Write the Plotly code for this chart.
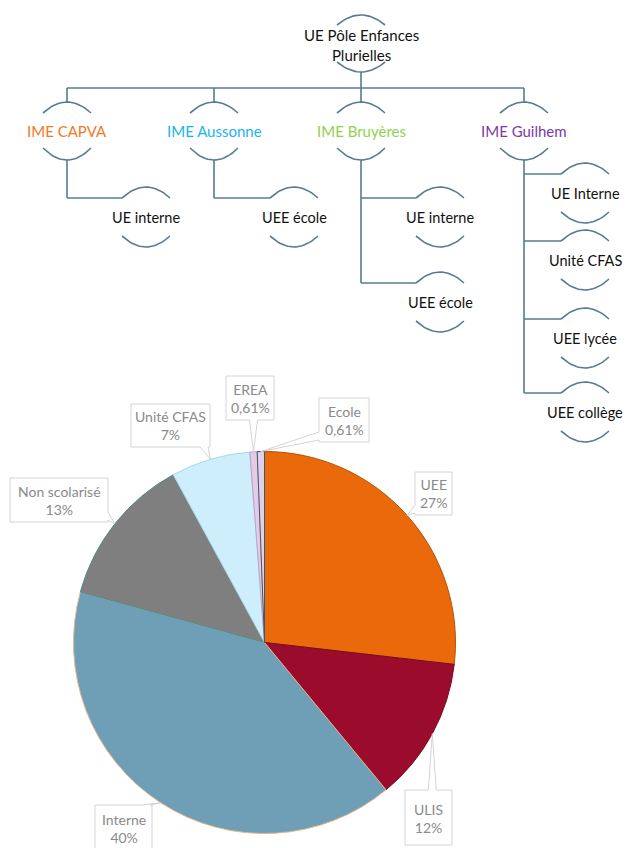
import numpy as np
import plotly.graph_objects as go

# ---------------- data ----------------
root_label = "UE Pôle Enfances<br>Plurielles"
ime_labels = ["IME CAPVA", "IME Aussonne", "IME Bruyères", "IME Guilhem"]
ime_colors = ["#F07A28", "#1AB4EE", "#92D050", "#7A3AA8"]
ime_units = [
    ["UE interne"],
    ["UEE école"],
    ["UE interne", "UEE école"],
    ["UE Interne", "Unité CFAS", "UEE lycée", "UEE collège"],
]

pie_labels = ["UEE", "ULIS", "Interne", "Non scolarisé", "Unité CFAS", "EREA", "Ecole"]
pie_counts = [44, 20, 66, 21, 11, 1, 1]
pie_colors = ["#E9690B", "#9B0B2C", "#6E9FB6", "#7F7F7F", "#CDEEFA", "#E6CBE6", "#DCD3EA"]
pie_edge_colors = ["#B5520A", "#7A0A22", "#E8B58A", "#4E8C8A", "#A9D8EA", "#B9A2C8", "#44546A"]

# ---------------- layout constants ----------------
W, H = 633, 848
OFF = 8  # page body margin: figure starts 8px in from the window edge
LINE_COLOR = "#567B95"
FONT = "Lato"
ORG_SIZE = 15
UNIT_SIZE = 14.5
ROOT_XY = (361, 45)
BUS_Y = 88
IME_X = [67, 214, 361, 524]
IME_Y = 131
CHILD_DX = [79, 80, 79, 61]
CHILD_Y = [[217], [217], [217, 302], [193, 260, 338, 412]]
HALF_CHORD = 24

PIE_C = (264.5, 642.5)
PIE_R = 191.0
CALLOUT_SIZE = 14
# callout boxes: x0, y0, x1, y1, side of tail
CALLOUTS = {
    "UEE": (415, 472, 452, 515, "left"),
    "ULIS": (405, 790, 452, 845, "top"),
    "Interne": (95, 805, 152, 850, "top"),
    "Non scolarisé": (10, 478, 108, 522, "right"),
    "Unité CFAS": (131, 404, 210, 447, "bottom"),
    "EREA": (226, 376, 274, 420, "bottom"),
    "Ecole": (319, 398, 369, 442, "left"),
}

xs, ys = [], []


def seg(points):
    for p in points:
        xs.append(p[0]); ys.append(p[1])
    xs.append(None); ys.append(None)


def arc(cx, cy, d_end, d_peak, half=HALF_CHORD):
    # quadratic bezier cap whose ends sit at cy+d_end and apex at cy+d_peak
    ctrl = 2 * d_peak - d_end
    t = np.linspace(0, 1, 25)
    px = (1 - t) ** 2 * (cx - half) + 2 * (1 - t) * t * cx + t ** 2 * (cx + half)
    py = (1 - t) ** 2 * (cy + d_end) + 2 * (1 - t) * t * (cy + ctrl) + t ** 2 * (cy + d_end)
    seg(list(zip(px, py)))


annotations = []
# root node
rx, ry = ROOT_XY
arc(rx, ry, -20, -30)
arc(rx, ry, 17, 27)
annotations.append(dict(x=rx, y=ry, text=root_label, showarrow=False, xref="x", yref="y",
                        font=dict(family=FONT, size=ORG_SIZE, color="#111111")))
seg([(rx, ry + 27), (rx, BUS_Y)])
seg([(IME_X[0], BUS_Y), (IME_X[-1], BUS_Y)])

for i, lab in enumerate(ime_labels):
    x = IME_X[i]
    seg([(x, BUS_Y), (x, IME_Y - 29)])
    arc(x, IME_Y, -18, -29)
    arc(x, IME_Y, 17, 29)
    annotations.append(dict(x=x, y=IME_Y, text=lab, showarrow=False, xref="x", yref="y",
                            font=dict(family=FONT, size=ORG_SIZE, color=ime_colors[i])))
    cx = x + CHILD_DX[i]
    ys_child = CHILD_Y[i]
    seg([(x, IME_Y + 29), (x, ys_child[-1] - 19)])
    for unit, cy in zip(ime_units[i], ys_child):
        seg([(x, cy - 19), (cx - HALF_CHORD, cy - 19)])
        arc(cx, cy, -19, -30)
        arc(cx, cy, 19, 30)
        annotations.append(dict(x=cx, y=cy, text=unit, showarrow=False, xref="x", yref="y",
                                font=dict(family=FONT, size=UNIT_SIZE, color="#111111")))

fig = go.Figure()
fig.add_trace(go.Scatter(x=xs, y=ys, mode="lines", line=dict(color=LINE_COLOR, width=1.6),
                         hoverinfo="skip", showlegend=False))

# ---------------- pie ----------------
FW, FH = W - OFF, H - OFF
YB = H  # window y of the figure's bottom edge
cxp, cyp = PIE_C
dom_x = [(cxp - OFF - PIE_R) / FW, (cxp - OFF + PIE_R) / FW]
dom_y = [(YB - cyp - PIE_R) / FH, (YB - cyp + PIE_R) / FH]
fig.add_trace(go.Pie(labels=pie_labels, values=pie_counts, sort=False, direction="clockwise",
                     rotation=0, textinfo="none", hoverinfo="label+percent",
                     marker=dict(colors=pie_colors, line=dict(color=pie_edge_colors, width=1)),
                     domain=dict(x=dom_x, y=dom_y), showlegend=False))

total = sum(pie_counts)


def pct_text(v):
    p = 100 * v / total
    if p < 1:
        return f"{p:.2f}".replace(".", ",") + "%"
    return f"{round(p)}%"


shapes = []
cum = 0
for lab, v in zip(pie_labels, pie_counts):
    mid = (cum + v / 2) / total * 2 * np.pi
    cum += v
    ax, ay = cxp + PIE_R * np.sin(mid), cyp - PIE_R * np.cos(mid)
    x0, y0, x1, y1, side = CALLOUTS[lab]
    w = 4
    if side in ("top", "bottom"):
        b = min(max(ax, x0 + w + 2), x1 - w - 2)
    else:
        b = min(max(ay, y0 + w + 2), y1 - w - 2)
    pts = [(x0, y0)]
    if side == "top":
        pts += [(b - w, y0), (ax, ay), (b + w, y0)]
    pts += [(x1, y0)]
    if side == "right":
        pts += [(x1, b - w), (ax, ay), (x1, b + w)]
    pts += [(x1, y1)]
    if side == "bottom":
        pts += [(b + w, y1), (ax, ay), (b - w, y1)]
    pts += [(x0, y1)]
    if side == "left":
        pts += [(x0, b + w), (ax, ay), (x0, b - w)]
    path = "M " + " L ".join(f"{px:.1f},{py:.1f}" for px, py in pts) + " Z"
    shapes.append(dict(type="path", path=path, xref="x", yref="y",
                       line=dict(color="#D4D4D4", width=1), fillcolor="white", layer="above"))
    ty = {"ULIS": 818, "Interne": 828}.get(lab, (y0 + y1) / 2)
    annotations.append(dict(x=(x0 + x1) / 2, y=ty,
                            text=f"{lab}<br>{pct_text(v)}", showarrow=False, xref="x", yref="y",
                            font=dict(family=FONT, size=CALLOUT_SIZE, color="#8A8A8A")))

fig.update_layout(
    width=FW, height=FH, margin=dict(l=0, r=0, t=0, b=0),
    paper_bgcolor="white", plot_bgcolor="white",
    xaxis=dict(range=[OFF, W], visible=False, fixedrange=True, domain=[0, 1]),
    yaxis=dict(range=[YB, OFF], visible=False, fixedrange=True, domain=[0, 1]),
    shapes=shapes, annotations=annotations,
)
fig.write_html("out.html")
